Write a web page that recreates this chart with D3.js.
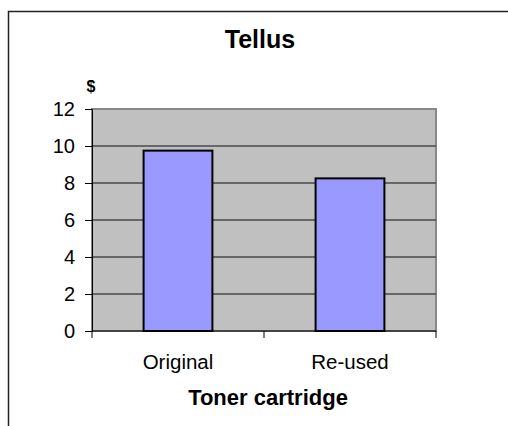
<!DOCTYPE html>
<head>
    <meta charset="utf-8">
    <title>Tellus</title>
    <style>
        body { margin: 0; background: #fff; }
        text { font-family: "Liberation Sans", Arial, sans-serif; }
    </style>
</head>
<body>
<script src="https://d3js.org/d3.v7.min.js"></script>
<script>
// data
let categories = ["Original", "Re-used"];
let values = [9.75, 8.25];
let ticks = [0, 2, 4, 6, 8, 10, 12];

let width = 508;
let height = 426;
let plot = {left: 92, right: 436, top: 109, bottom: 331};

let svg = d3.select("body").append("svg")
    .attr("width", width)
    .attr("height", height);

// outer chart frame (runs off the right and bottom edge)
svg.append("rect")
    .attr("x", 8.5)
    .attr("y", 11.5)
    .attr("width", 540)
    .attr("height", 460)
    .attr("fill", "#fff")
    .attr("stroke", "#222")
    .attr("stroke-width", 1.5);

let x = d3.scaleBand()
    .domain(categories)
    .range([plot.left, plot.right])
    .paddingInner(0.6)
    .paddingOuter(0.3);

let y = d3.scaleLinear()
    .domain([0, 12])
    .range([plot.bottom, plot.top]);

// plot background
svg.append("rect")
    .attr("x", plot.left)
    .attr("y", plot.top)
    .attr("width", plot.right - plot.left)
    .attr("height", plot.bottom - plot.top)
    .attr("fill", "#c0c0c0")
    .attr("stroke", "#888")
    .attr("stroke-width", 2);

// gridlines
svg.selectAll(".grid")
    .data(ticks.filter(d => d > 0 && d < 12))
    .join("line")
    .attr("class", "grid")
    .attr("x1", plot.left)
    .attr("x2", plot.right)
    .attr("y1", d => y(d))
    .attr("y2", d => y(d))
    .attr("stroke", "#4a4a4a")
    .attr("stroke-width", 1.3);

// bars
svg.selectAll(".bar")
    .data(values)
    .join("rect")
    .attr("class", "bar")
    .attr("x", (d, i) => x(categories[i]))
    .attr("y", d => y(d))
    .attr("width", x.bandwidth())
    .attr("height", d => y(0) - y(d))
    .attr("fill", "#9999ff")
    .attr("stroke", "#000")
    .attr("stroke-width", 2);

// y axis
let yAxis = svg.append("g")
    .attr("transform", `translate(${plot.left},0)`)
    .call(d3.axisLeft(y).tickValues(ticks).tickSize(7).tickPadding(10));

// x axis: ticks at the band edges
let edges = [plot.left, (plot.left + plot.right) / 2, plot.right];
let xAxis = svg.append("g");
xAxis.append("line")
    .attr("x1", plot.left).attr("x2", plot.right)
    .attr("y1", plot.bottom).attr("y2", plot.bottom)
    .attr("stroke", "#000");
xAxis.selectAll(".xtick")
    .data(edges)
    .join("line")
    .attr("class", "xtick")
    .attr("x1", d => d).attr("x2", d => d)
    .attr("y1", plot.bottom).attr("y2", plot.bottom + 7)
    .attr("stroke", "#000");
xAxis.selectAll(".xlabel")
    .data(categories)
    .join("text")
    .attr("class", "xlabel")
    .attr("x", d => x(d) + x.bandwidth() / 2)
    .attr("y", 369)
    .attr("text-anchor", "middle")
    .style("font-size", "20.5px")
    .text(d => d);

yAxis.select(".domain").attr("stroke", "#000");
yAxis.selectAll(".tick line").attr("stroke", "#000");
yAxis.selectAll(".tick text")
    .style("font-size", "20px")
    .style("font-family", "'Liberation Sans', Arial, sans-serif")
    .attr("fill", "#000");

// title and axis titles
svg.append("text")
    .attr("x", 260)
    .attr("y", 47.5)
    .attr("text-anchor", "middle")
    .style("font-size", "25px")
    .style("font-weight", "bold")
    .text("Tellus");

svg.append("text")
    .attr("x", 91)
    .attr("y", 92)
    .attr("text-anchor", "middle")
    .style("font-size", "16px")
    .style("font-weight", "bold")
    .text("$");

svg.append("text")
    .attr("x", 268)
    .attr("y", 405)
    .attr("text-anchor", "middle")
    .style("font-size", "22px")
    .style("font-weight", "bold")
    .text("Toner cartridge");
</script>
</body>
